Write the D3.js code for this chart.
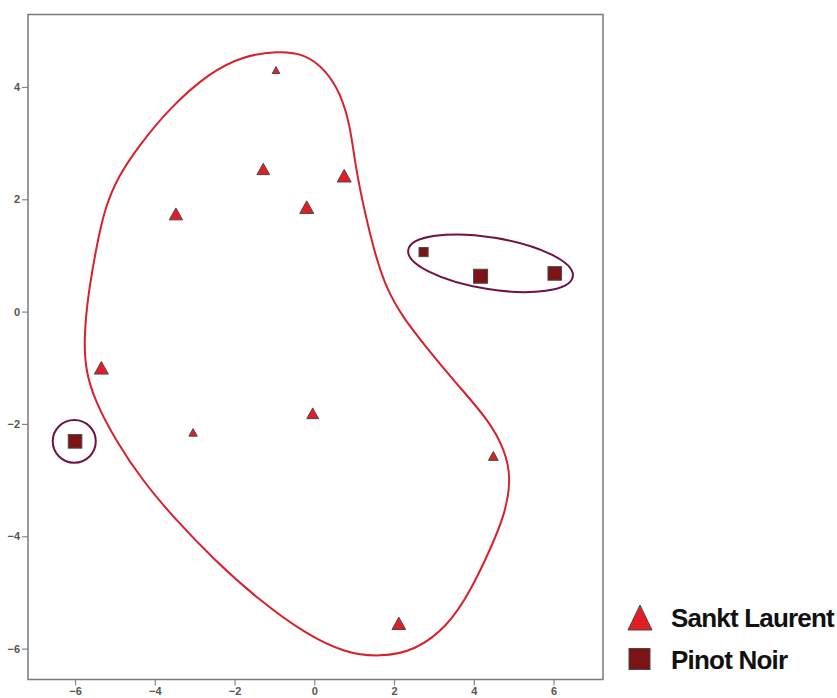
<!DOCTYPE html>
<html>
<head>
<meta charset="utf-8">
<script src="https://cdnjs.cloudflare.com/ajax/libs/d3/7.8.5/d3.min.js"></script>
<style>
  body { margin: 0; background: #fff; }
  svg { display: block; }
  .tick text { font-family: "Liberation Sans", Arial, sans-serif; font-size: 11px; font-weight: bold; fill: #555; }
  .legend text { font-family: "Liberation Sans", Arial, sans-serif; font-size: 26px; font-weight: bold; letter-spacing: -0.8px; fill: #111; }
</style>
</head>
<body>
<div id="corpo"></div>
<script>
// ---- dados ----
var categories = ["Sankt Laurent", "Pinot Noir"];

// Sankt Laurent (triângulos)
var slX = [-0.96, -1.28, 0.75, -0.19, -3.47, -5.34, -0.04, -3.04, 4.49, 2.12];
var slY = [4.30, 2.54, 2.42, 1.86, 1.74, -1.00, -1.81, -2.15, -2.57, -5.55];
var slW = [0.55, 0.9, 1, 1, 0.95, 1, 0.85, 0.6, 0.7, 0.98];

// Pinot Noir (quadrados)
var pnX = [2.74, 4.17, 6.03, -6.00];
var pnY = [1.06, 0.63, 0.68, -2.31];
var pnW = [0.65, 1, 0.97, 0.97];

var xTicks = [-6, -4, -2, 0, 2, 4, 6];
var yTicks = [-6, -4, -2, 0, 2, 4];

// contorno Sankt Laurent
var slHullX = [-0.93, -0.23, 0.29, 0.66, 0.89, 1.01, 1.16, 1.34, 1.55, 1.82, 2.22, 2.80, 3.55, 4.36, 4.78, 4.94, 4.78, 4.44, 3.93, 3.35, 2.53, 1.65, 0.77, -0.24, -1.38, -2.51, -3.51, -4.32, -4.99, -5.49, -5.75, -5.77, -5.67, -5.49, -5.27, -4.91, -4.40, -3.64, -2.62, -1.79];
var slHullY = [4.64, 4.59, 4.30, 3.88, 3.34, 2.71, 2.12, 1.55, 0.96, 0.39, -0.10, -0.63, -1.27, -1.92, -2.46, -2.98, -3.61, -4.19, -4.96, -5.60, -6.04, -6.15, -6.08, -5.73, -5.14, -4.42, -3.68, -3.00, -2.28, -1.61, -1.03, -0.40, 0.31, 1.05, 1.82, 2.42, 2.95, 3.62, 4.26, 4.55];

// elipse Pinot Noir (grupo direito): centro, semi-eixos, rotação em graus
var pnEllipse = { x: 4.42, y: 0.86, rx: 2.09, ry: 0.46, angle: 9.2 };

// círculo Pinot Noir (ponto isolado)
var pnCircle = { x: -6.02, y: -2.31, rx: 0.54, ry: 0.38 };

var width = 837, height = 698;
var svg = d3.select("#corpo").append("svg")
	.attr("width", width)
	.attr("height", height);

var plot = { left: 28, right: 603, top: 14.5, bottom: 679.5 };

var x = d3.scaleLinear().domain([-7.18, 7.24]).range([plot.left, plot.right]);
var y = d3.scaleLinear().domain([-6.55, 5.29]).range([plot.bottom, plot.top]);
var side = d3.scaleLinear().domain([0, 1]).range([0, 14]);

var triColor = "#e31d25", sqColor = "#7c1316", markStroke = "#4a4a4a";
var hullRed = "#d8202a", hullPurple = "#6e1343";

// eixos
svg.append("g")
	.attr("transform", "translate(0," + plot.bottom + ")")
	.call(d3.axisBottom(x).tickValues(xTicks).tickSize(6).tickPadding(2))
	.call(function(g){ g.select(".domain").remove(); })
	.call(function(g){ g.selectAll("line").attr("stroke", "#888").attr("stroke-width", 1.2); });

svg.append("g")
	.attr("transform", "translate(" + plot.left + ",0)")
	.call(d3.axisLeft(y).tickValues(yTicks).tickSize(6).tickPadding(2))
	.call(function(g){ g.select(".domain").remove(); })
	.call(function(g){ g.selectAll("line").attr("stroke", "#888").attr("stroke-width", 1.2); });

// moldura
svg.append("rect")
	.attr("x", plot.left).attr("y", plot.top)
	.attr("width", plot.right - plot.left)
	.attr("height", plot.bottom - plot.top)
	.attr("fill", "none")
	.attr("stroke", "#7a7a7a")
	.attr("stroke-width", 1.5);

// contornos (b-spline fechada, suave)
var hullLine = d3.line()
	.x(function(d){ return x(d[0]); })
	.y(function(d){ return y(d[1]); })
	.curve(d3.curveBasisClosed);

svg.append("path")
	.datum(d3.zip(slHullX, slHullY))
	.attr("d", hullLine)
	.attr("fill", "none")
	.attr("stroke", hullRed)
	.attr("stroke-width", 2);

svg.append("ellipse")
	.attr("transform", "translate(" + x(pnEllipse.x) + "," + y(pnEllipse.y) + ") rotate(" + pnEllipse.angle + ")")
	.attr("rx", x(pnEllipse.rx) - x(0))
	.attr("ry", y(0) - y(pnEllipse.ry))
	.attr("fill", "none")
	.attr("stroke", hullPurple)
	.attr("stroke-width", 2);

svg.append("ellipse")
	.attr("cx", x(pnCircle.x))
	.attr("cy", y(pnCircle.y))
	.attr("rx", x(pnCircle.rx) - x(0))
	.attr("ry", y(0) - y(pnCircle.ry))
	.attr("fill", "none")
	.attr("stroke", hullPurple)
	.attr("stroke-width", 2);

// triângulo centrado na caixa
function triPath(s){
	var h = s * 0.9;
	return "M0," + (-h/2) + "L" + (s/2) + "," + (h/2) + "L" + (-s/2) + "," + (h/2) + "Z";
}

svg.append("g").selectAll("path")
	.data(d3.range(slX.length))
	.enter().append("path")
	.attr("transform", function(i){ return "translate(" + x(slX[i]) + "," + y(slY[i]) + ")"; })
	.attr("d", function(i){ return triPath(side(slW[i])); })
	.attr("fill", triColor)
	.attr("stroke", markStroke)
	.attr("stroke-width", 1);

svg.append("g").selectAll("rect")
	.data(d3.range(pnX.length))
	.enter().append("rect")
	.attr("x", function(i){ return x(pnX[i]) - side(pnW[i]) / 2; })
	.attr("y", function(i){ return y(pnY[i]) - side(pnW[i]) / 2; })
	.attr("width", function(i){ return side(pnW[i]); })
	.attr("height", function(i){ return side(pnW[i]); })
	.attr("fill", sqColor)
	.attr("stroke", markStroke)
	.attr("stroke-width", 1);

// legenda
var legend = svg.append("g").attr("class", "legend");

legend.append("path")
	.attr("transform", "translate(640,617.5)")
	.attr("d", "M0,-12.5L12,12.5L-12,12.5Z")
	.attr("fill", triColor)
	.attr("stroke", markStroke)
	.attr("stroke-width", 1);

legend.append("rect")
	.attr("x", 629).attr("y", 648.5)
	.attr("width", 21).attr("height", 21)
	.attr("fill", sqColor)
	.attr("stroke", markStroke)
	.attr("stroke-width", 1);

legend.selectAll("text")
	.data(categories)
	.enter().append("text")
	.attr("x", 671)
	.attr("y", function(d, i){ return 627 + i * 42; })
	.text(function(d){ return d; });
</script>
</body>
</html>
